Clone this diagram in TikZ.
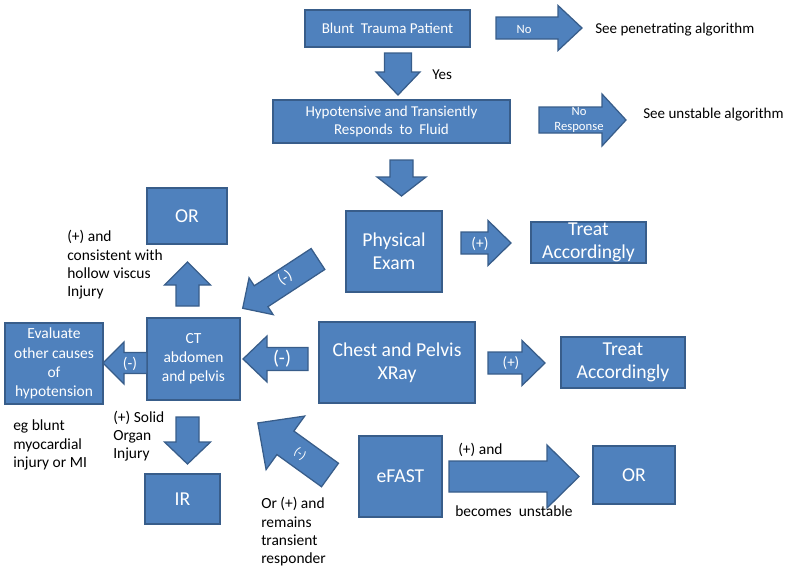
\documentclass[tikz,border=0pt]{standalone}
\usepackage{fontspec}
\setmainfont{Carlito}
\definecolor{blu}{HTML}{4F81BD}
\definecolor{bdr}{HTML}{385D8A}
\newcommand{\pxu}{0.025cm}
% block arrow: tail, angle, length, body width, head width, head length
\newcommand{\barrow}[6]{
	\draw[blk, shift={(#1)}, rotate=#2](0, #4/2)--({#3-#6}, #4/2)--({#3-#6}, #5/2)--(#3, 0)
		--({#3-#6}, -#5/2)--({#3-#6}, -#4/2)--(0, -#4/2)--cycle
}
\tikzset{
	blk/.style={draw=bdr, fill=blu, line width=.9pt, line join=miter},
	box/.style={blk, text=white, align=center, inner sep=0pt},
	lbl/.style={inner sep=0pt, align=left},
	wl/.style={inner sep=0pt, text=white},
	fS/.style={font=\fontsize{9}{11}\selectfont},
	fA/.style={font=\fontsize{10.7}{13}\selectfont},
	fB/.style={font=\fontsize{11}{13}\selectfont},
	fBb/.style={font=\fontsize{11}{13.6}\selectfont},
	fC/.style={font=\fontsize{14}{16.5}\selectfont},
}
\begin{document}
\begin{tikzpicture}[x=\pxu, y=-\pxu]
	\useasboundingbox (0, 0) rectangle (804, 573);
	% boxes
	\node[box, fA, minimum width=165*\pxu, minimum height=37*\pxu](blunt)at(387.5, 28.5){Blunt\ \ Trauma Patient};
	\node[box, fA, minimum width=237*\pxu, minimum height=43*\pxu](hypo)at(391.5, 121.5){Hypotensive and Transiently\\Responds\ \ to\ \ Fluid};
	\node[box, fC, minimum width=80*\pxu, minimum height=56*\pxu](orup)at(187, 216){OR};
	\node[box, fC, minimum width=96*\pxu, minimum height=81*\pxu](exam)at(394, 251.5){Physical\\Exam};
	\node[box, fC, minimum width=115*\pxu, minimum height=41*\pxu](treata)at(588.5, 242.5){Treat\\Accordingly};
	\node[box, fBb, minimum width=93*\pxu, minimum height=82*\pxu](ct)at(193.5, 359){CT\\abdomen\\and pelvis};
	\node[box, fBb, minimum width=98*\pxu, minimum height=81*\pxu](eval)at(54, 363.5){Evaluate\\other causes\\of\\hypotension};
	\node[box, fC, minimum width=156*\pxu, minimum height=81*\pxu](xray)at(397, 362.5){Chest and Pelvis\\XRay};
	\node[box, fC, minimum width=124*\pxu, minimum height=51*\pxu](treatb)at(623, 362.5){Treat\\Accordingly};
	\node[box, fC, minimum width=75*\pxu, minimum height=50*\pxu](ir)at(182.5, 499){IR};
	\node[box, fC, minimum width=83*\pxu, minimum height=81*\pxu](efast)at(400.5, 476.5){eFAST};
	\node[box, fC, minimum width=82*\pxu, minimum height=58*\pxu](ordown)at(634, 475){OR};
	% block arrows
	\barrow{496, 28}{0}{86}{22}{45}{24};
	\barrow{398, 53}{-90}{42}{27}{44}{23};
	\barrow{539, 120}{0}{87}{26}{52}{24};
	\barrow{401.5, 160}{-90}{36}{23}{49}{19};
	\barrow{187.5, 306}{90}{44}{23}{46}{23};
	\barrow{318, 259}{213.2}{90}{25}{44}{22};
	\barrow{147, 363}{180}{44}{21}{42}{21};
	\barrow{308, 359}{180}{65}{23}{46}{24};
	\barrow{461, 243}{0}{50}{22}{45}{23};
	\barrow{488, 363}{0}{57}{22}{45}{23};
	\barrow{187.5, 417}{-90}{47}{23}{46}{22};
	\barrow{330, 475}{144.2}{89}{29}{66}{34};
	\barrow{449, 476.5}{0}{130}{31}{63}{32};
	% labels in arrows
	\node[wl, fS](no)at(524, 29){No};
	\node[wl, fS, align=center](noresp)at(579, 120){No\\Response};
	\node[wl, fB, rotate=33.2](minusa)at(285, 278){(-)};
	\node[wl, fB](minusb)at(130, 364){(-)};
	\node[wl, fC](minusc)at(282, 359){(-)};
	\node[wl, fB](plusa)at(480, 244){(+)};
	\node[wl, fA](plusb)at(511, 363){(+)};
	\node[wl, fS, rotate=-35.8](minusd)at(300, 454){(-)};
	% outside labels
	\node[lbl, fA, anchor=west](pen)at(595, 30){See penetrating algorithm};
	\node[lbl, fA, anchor=west](unst)at(643, 115){See unstable algorithm};
	\node[lbl, fA, anchor=west](yes)at(432, 75){Yes};
	\node[lbl, fB, anchor=west](hollow)at(67, 265){(+) and\\consistent with\\hollow viscus\\Injury};
	\node[lbl, fB, anchor=west](myo)at(13, 445){eg blunt\\myocardial\\injury or MI};
	\node[lbl, fB, anchor=west](solid)at(113, 436){(+) Solid\\Organ\\Injury};
	\node[lbl, fB, anchor=west](transient)at(261, 532){Or (+) and\\remains\\transient\\responder};
	\node[lbl, fB, anchor=west](posand)at(458, 450){(+) and};
	\node[lbl, fB, anchor=west](becomes)at(455, 511){becomes\ \ unstable};
\end{tikzpicture}
\end{document}
